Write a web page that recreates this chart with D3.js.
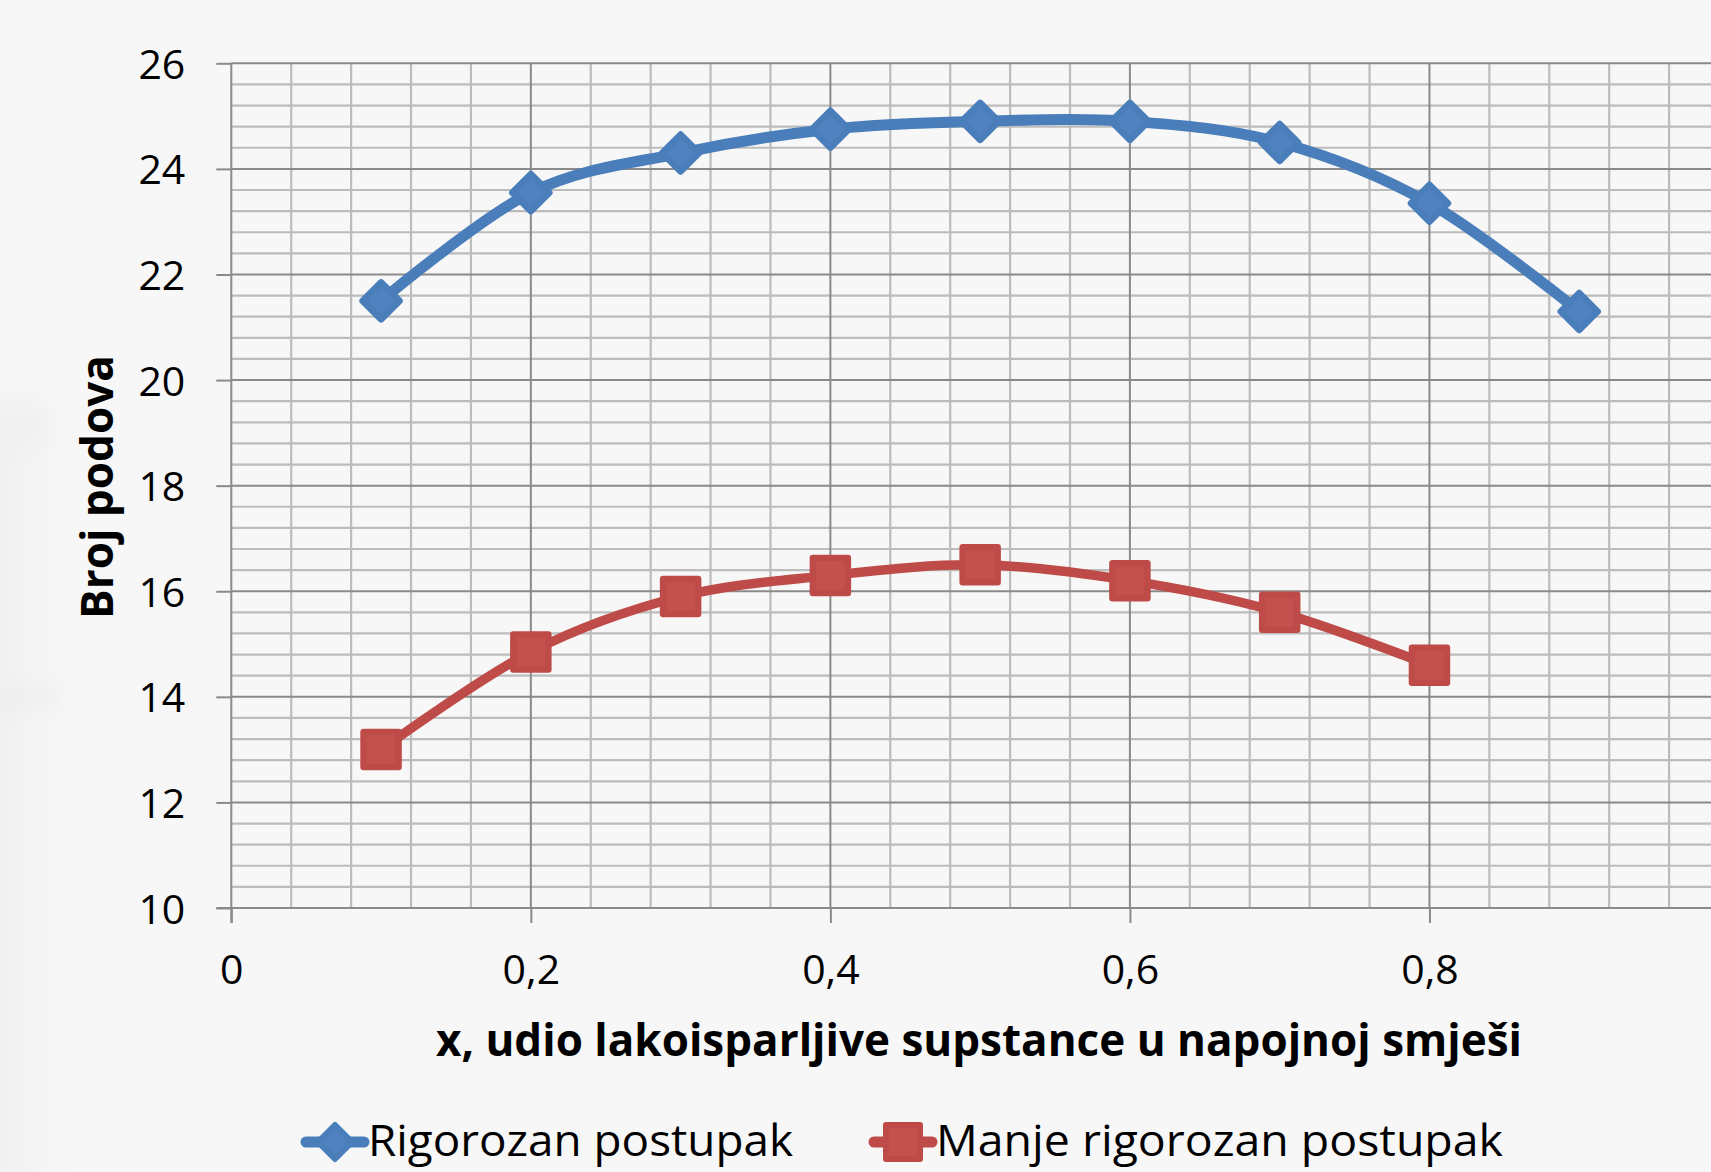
<!DOCTYPE html>
<html>
<head>
<meta charset="utf-8">
<script src="https://cdn.jsdelivr.net/npm/d3@7"></script>
<style>
  html, body { margin: 0; padding: 0; background: #f7f7f7; }
  svg { display: block; }
</style>
</head>
<body>
<script>
// Feed composition (fraction of the more volatile component)
const xValues = [0.1, 0.2, 0.3, 0.4, 0.5, 0.6, 0.7, 0.8, 0.9];
// Number of trays, rigorous method
const rigorozan = [21.5, 23.55, 24.3, 24.75, 24.9, 24.9, 24.5, 23.35, 21.3];
// Number of trays, simplified method (no value at 0.9)
const manjeRigorozan = [13.0, 14.85, 15.9, 16.3, 16.5, 16.2, 15.6, 14.6];

const yTickValues = [10, 12, 14, 16, 18, 20, 22, 24, 26];
const xTickValues = [0, 0.2, 0.4, 0.6, 0.8];
const xTickLabels = ["0", "0,2", "0,4", "0,6", "0,8"];
const seriesNames = ["Rigorozan postupak", "Manje rigorozan postupak"];
const xTitle = "x, udio lakoisparljive supstance u napojnoj smješi";
const yTitle = "Broj podova";

const W = 1711, H = 1172;
const FONT = "'Open Sans', 'Noto Sans', sans-serif";
const BLUE = "#4a7ebb", BLUE_IN = "#4f82be";
const RED = "#be4b48", RED_IN = "#c3524f";

const svg = d3.select("body").append("svg")
  .attr("width", W).attr("height", H)
  .attr("viewBox", `0 0 ${W} ${H}`);

// soft backdrop
const defs = svg.append("defs");
defs.append("filter").attr("id", "soft")
  .attr("x", "-50%").attr("y", "-50%").attr("width", "200%").attr("height", "200%")
  .append("feGaussianBlur").attr("stdDeviation", 10);

svg.append("rect").attr("width", W).attr("height", H).attr("fill", "#f7f7f7");
const backdrop = svg.append("g").attr("filter", "url(#soft)");
backdrop.append("rect").attr("x", -20).attr("y", 400).attr("width", 70).attr("height", 800)
  .attr("fill", "#e8e8e8").attr("opacity", 0.45);
backdrop.append("rect").attr("x", 22).attr("y", 450).attr("width", 26).attr("height", 740)
  .attr("fill", "#f5f5f5").attr("opacity", 0.9);
backdrop.append("rect").attr("x", 0).attr("y", 690).attr("width", 60).attr("height", 14)
  .attr("fill", "#e4e4e4").attr("opacity", 0.5);

// scales
const x = d3.scaleLinear().domain([0, 1]).range([231.3, 1729]);
const y = d3.scaleLinear().domain([10, 26]).range([908, 63.3]);

const plotLeft = x(0), plotRight = x(1), plotTop = y(26), plotBottom = y(10);

// minor grid
const minorX = d3.range(1, 26).filter(i => i % 5 !== 0).map(i => i * 0.04);
const minorY = d3.range(1, 41).filter(i => i % 5 !== 0).map(i => 10 + i * 0.4);
const grid = svg.append("g");
grid.selectAll(".mx").data(minorX).join("line")
  .attr("x1", d => x(d)).attr("x2", d => x(d))
  .attr("y1", plotTop).attr("y2", plotBottom)
  .attr("stroke", "#bcbcbc").attr("stroke-width", 2.2);
grid.selectAll(".my").data(minorY).join("line")
  .attr("x1", plotLeft).attr("x2", plotRight)
  .attr("y1", d => y(d)).attr("y2", d => y(d))
  .attr("stroke", "#bcbcbc").attr("stroke-width", 2.2);

// major grid
const majorX = [0.2, 0.4, 0.6, 0.8, 1.0];
grid.selectAll(".Mx").data(majorX).join("line")
  .attr("x1", d => x(d)).attr("x2", d => x(d))
  .attr("y1", plotTop).attr("y2", plotBottom)
  .attr("stroke", "#8a8a8a").attr("stroke-width", 2);
grid.selectAll(".My").data(yTickValues.slice(1)).join("line")
  .attr("x1", plotLeft).attr("x2", plotRight)
  .attr("y1", d => y(d)).attr("y2", d => y(d))
  .attr("stroke", "#8a8a8a").attr("stroke-width", 2);

// axes
const yAxis = d3.axisLeft(y).tickValues(yTickValues).tickSize(15).tickPadding(31)
  .tickFormat(d => String(d));
const xAxis = d3.axisBottom(x).tickValues(xTickValues).tickSize(15).tickPadding(0)
  .tickFormat((d, i) => xTickLabels[i]);

const gy = svg.append("g").attr("transform", `translate(${plotLeft},0)`).call(yAxis);
const gx = svg.append("g").attr("transform", `translate(0,${plotBottom})`).call(xAxis);

[gy, gx].forEach(g => {
  g.select(".domain").remove();
  g.selectAll(".tick line").attr("stroke", "#8a8a8a").attr("stroke-width", 2);
  g.selectAll(".tick text")
    .attr("fill", "#000")
    .style("font-family", FONT)
    .style("font-size", "41px");
});
gy.selectAll(".tick text").attr("dy", null).attr("y", 15);
gx.selectAll(".tick text").attr("dy", null).attr("y", 76);

// axis lines
svg.append("line").attr("x1", plotLeft).attr("x2", plotLeft)
  .attr("y1", plotTop).attr("y2", plotBottom + 15)
  .attr("stroke", "#8a8a8a").attr("stroke-width", 2);
svg.append("line").attr("x1", plotLeft - 15).attr("x2", plotRight)
  .attr("y1", plotBottom).attr("y2", plotBottom)
  .attr("stroke", "#8a8a8a").attr("stroke-width", 2);

// series
const series = [
  { name: seriesNames[0], values: rigorozan, stroke: BLUE, fill: BLUE_IN, width: 11, shape: "diamond" },
  { name: seriesNames[1], values: manjeRigorozan, stroke: RED, fill: RED_IN, width: 9.5, shape: "square" }
];

const line = d3.line()
  .x(d => x(d[0])).y(d => y(d[1]))
  .curve(d3.curveCardinal.tension(0));

function drawMarker(g, shape, cx, cy, s) {
  if (shape === "diamond") {
    const h = s.diamond;
    return g.append("path")
      .attr("d", `M${cx},${cy - h}L${cx + h},${cy}L${cx},${cy + h}L${cx - h},${cy}Z`);
  }
  const h = s.square;
  return g.append("rect")
    .attr("x", cx - h).attr("y", cy - h).attr("width", 2 * h).attr("height", 2 * h);
}

const marks = svg.append("g");
series.forEach(s => {
  const pts = s.values.map((v, i) => [xValues[i], v]);
  marks.append("path").datum(pts)
    .attr("d", line)
    .attr("fill", "none")
    .attr("stroke", s.stroke)
    .attr("stroke-width", s.width)
    .attr("stroke-linecap", "round");
  const mg = marks.append("g");
  pts.forEach(p => {
    drawMarker(mg, s.shape, x(p[0]), y(p[1]), { diamond: 18.5, square: 17.5 })
      .attr("fill", s.fill)
      .attr("stroke", s.stroke)
      .attr("stroke-width", 6.5)
      .attr("stroke-linejoin", "round");
  });
});

// axis titles
svg.append("text")
  .attr("x", 979).attr("y", 1056)
  .attr("text-anchor", "middle")
  .attr("textLength", 1086).attr("lengthAdjust", "spacingAndGlyphs")
  .style("font-family", FONT).style("font-weight", 700).style("font-size", "44px")
  .attr("fill", "#000")
  .text(xTitle);

svg.append("text")
  .attr("transform", "translate(113,487) rotate(-90)")
  .attr("text-anchor", "middle")
  .attr("textLength", 264).attr("lengthAdjust", "spacingAndGlyphs")
  .style("font-family", FONT).style("font-weight", 700).style("font-size", "45px")
  .attr("fill", "#000")
  .text(yTitle);

// legend
const legendItems = [
  { s: series[0], x0: 306, x1: 364, cx: 335, tx: 368, tw: 425 },
  { s: series[1], x0: 874, x1: 932, cx: 903, tx: 936, tw: 567 }
];
const lg = svg.append("g");
const ly = 1142;
legendItems.forEach(it => {
  lg.append("line")
    .attr("x1", it.x0).attr("x2", it.x1).attr("y1", ly).attr("y2", ly)
    .attr("stroke", it.s.stroke).attr("stroke-width", 11).attr("stroke-linecap", "round");
  drawMarker(lg, it.s.shape, it.cx, ly, { diamond: 17, square: 17 })
    .attr("fill", it.s.fill).attr("stroke", it.s.stroke)
    .attr("stroke-width", 6).attr("stroke-linejoin", "round");
  lg.append("text")
    .attr("x", it.tx).attr("y", 1156)
    .attr("textLength", it.tw).attr("lengthAdjust", "spacingAndGlyphs")
    .style("font-family", FONT).style("font-size", "44px")
    .attr("fill", "#000")
    .text(it.s.name);
});
</script>
</body>
</html>
